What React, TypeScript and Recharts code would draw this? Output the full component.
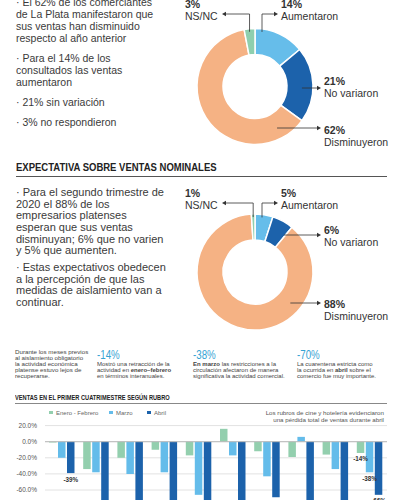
import React from "react";
import { PieChart, Pie, Cell, BarChart, Bar, XAxis, YAxis, CartesianGrid, ReferenceLine, LabelList } from "recharts";

// --- datos ---
const respuestas = ["Aumentaron", "No variaron", "Disminuyeron", "NS/NC"];
const ventasAnterior = [14, 21, 62, 3];
const ventasExpectativa = [5, 6, 88, 1];

const rubros = ["Rubro 1", "Rubro 2", "Rubro 3", "Rubro 4", "Rubro 5", "Rubro 6", "Rubro 7", "Rubro 8", "Rubro 9", "Total"];
const eneroFebrero = [-1, -34, -20, -10, -17, 16, -12, -19, -16, -14];
const marzo = [-20, -38, -40, -38, -66, -17, -43, 6, -34, -38];
const abril = [-39, -85, -82, -90, -100, -100, -69, -100, -78, -66];
const ticksY = [20, 0, -20, -40, -60, -80, -100];

const textoVentas = [
  ["· El 62% de los comerciantes", "de La Plata manifestaron que", "sus ventas han disminuido", "respecto al año anterior"],
  ["· Para el 14% de los", "consultados las ventas", "aumentaron"],
  ["· 21% sin variación"],
  ["· 3% no respondieron"],
];
const textoExpectativa = [
  ["· Para el segundo trimestre de", "2020 el 88% de los", "empresarios platenses", "esperan que sus ventas", "disminuyan; 6% que no varien", "y 5% que aumenten."],
  ["· Estas expectativos obedecen", "a la percepción de que las", "medidas de aislamiento van a", "continuar."],
];

// --- estilos ---
const FONT = '"Liberation Sans", Arial, sans-serif';
const INK = "#333";
const coloresTorta = ["#66bdea", "#1c62ab", "#f5b284", "#8ecfae"];
const colorEF = "#93cfae";
const colorMarzo = "#64bcea";
const colorAbril = "#1c62ab";
const colorCifra = "#35a3d3";
const RAD = Math.PI / 180;

type Etiqueta = { tipo: "izq" | "der" | "lado"; flecha?: number; texto?: number };
type DonaCfg = { arribaDy: number; etiquetas: Etiqueta[] };

const cfgVentas: DonaCfg = {
  arribaDy: -72.5,
  etiquetas: [{ tipo: "der" }, { tipo: "lado", flecha: 1.5, texto: -5.5 }, { tipo: "lado", flecha: 41.5, texto: 43 }, { tipo: "izq" }],
};
const cfgExpectativa: DonaCfg = {
  arribaDy: -69,
  etiquetas: [{ tipo: "der" }, { tipo: "lado", flecha: -37, texto: -42.5 }, { tipo: "lado", flecha: 31, texto: 31.5 }, { tipo: "izq" }],
};

const etiquetaDona = (cfg: DonaCfg) => (p: any) => {
  const { cx, cy, outerRadius, innerRadius, midAngle, index, value } = p;
  const e = cfg.etiquetas[index];
  const nombre = respuestas[index];
  const pct = `${value}%`;
  const tb = { fontFamily: FONT, fontSize: 10.5, fill: INK, dominantBaseline: "central" as const };
  if (e.tipo === "lado") {
    const dy = e.flecha as number;
    const ay = cy + dy;
    const r = (innerRadius + outerRadius) / 2 + 2;
    const x0 = cx + Math.sqrt(Math.max(r * r - dy * dy, 0));
    const x1 = cx + outerRadius + 8;
    const ty = cy + (e.texto as number);
    return (
      <g>
        <line x1={x0} y1={ay} x2={x1 - 3} y2={ay} stroke={INK} strokeWidth={0.8} />
        <path d={`M${x1},${ay} l-4,-2.2 v4.4 z`} fill={INK} />
        <text x={x1 + 3} y={ty} {...tb} fontWeight={700}>{pct}</text>
        <text x={x1 + 3} y={ty + 12} {...tb}>{nombre}</text>
      </g>
    );
  }
  const ay = cy + cfg.arribaDy;
  const dx = e.tipo === "der" ? 7 : outerRadius * Math.cos(-midAngle * RAD);
  const vx = cx + dx;
  const y0 = cy - Math.sqrt(outerRadius * outerRadius - dx * dx) + 3;
  if (e.tipo === "der") {
    const x1 = cx + 23;
    return (
      <g>
        <polyline points={`${vx},${y0} ${vx},${ay} ${x1 - 3},${ay}`} fill="none" stroke={INK} strokeWidth={0.8} />
        <path d={`M${x1},${ay} l-4,-2.2 v4.4 z`} fill={INK} />
        <text x={cx + 26} y={ay - 10.5} {...tb} fontWeight={700}>{pct}</text>
        <text x={cx + 26} y={ay + 2} {...tb}>{nombre}</text>
      </g>
    );
  }
  const x1 = cx - 33;
  return (
    <g>
      <polyline points={`${vx},${y0} ${vx},${ay} ${x1 + 3},${ay}`} fill="none" stroke={INK} strokeWidth={0.8} />
      <path d={`M${x1},${ay} l4,-2.2 v4.4 z`} fill={INK} />
      <text x={cx - 70} y={ay - 10.5} {...tb} fontWeight={700}>{pct}</text>
      <text x={cx - 70} y={ay + 2} {...tb}>{nombre}</text>
    </g>
  );
};

function Dona({ valores, top, cy, cfg }: { valores: number[]; top: number; cy: number; cfg: DonaCfg }) {
  const data = respuestas.map((r, i) => ({ name: r, value: valores[i] }));
  return (
    <div style={{ position: "absolute", left: 180, top, width: 220, height: 160 }}>
      <PieChart width={220} height={160} margin={{ top: 0, right: 0, bottom: 0, left: 0 }}>
        <Pie
          data={data}
          dataKey="value"
          cx={75}
          cy={cy}
          innerRadius={32}
          outerRadius={58}
          startAngle={90}
          endAngle={-270}
          stroke="#fff"
          strokeWidth={1.5}
          label={etiquetaDona(cfg)}
          labelLine={false}
          isAnimationActive={false}
        >
          {data.map((d, i) => (
            <Cell key={d.name} fill={coloresTorta[i]} />
          ))}
        </Pie>
      </PieChart>
    </div>
  );
}

function Parrafos({ paras, top, size, lh, gap }: { paras: string[][]; top: number; size: number; lh: number; gap: number }) {
  return (
    <div style={{ position: "absolute", left: 16, top, fontSize: size, lineHeight: `${lh}px`, whiteSpace: "nowrap" }}>
      {paras.map((p, i) => (
        <div key={i} style={{ marginBottom: gap }}>
          {p.map((l, j) => (
            <div key={j}>{l}</div>
          ))}
        </div>
      ))}
    </div>
  );
}

function Titulo({ text, top, left, size, scale }: { text: string; top: number; left: number; size: number; scale: number }) {
  return (
    <div
      style={{
        position: "absolute", left, top, fontSize: size, lineHeight: `${size}px`, fontWeight: 700, color: "#222",
        whiteSpace: "nowrap", transform: `scaleX(${scale})`, transformOrigin: "left center",
      }}
    >
      {text}
    </div>
  );
}

function Cifra({ left, valor, children }: { left: number; valor: string; children: React.ReactNode }) {
  return (
    <>
      <div style={{ position: "absolute", left, top: 349, fontSize: 12.5, lineHeight: "12.5px", color: colorCifra, transform: "scaleX(0.78)", transformOrigin: "left center" }}>
        {valor}
      </div>
      <div style={{ position: "absolute", left, top: 362, fontSize: 6, lineHeight: "5.8px", color: "#444", whiteSpace: "nowrap" }}>{children}</div>
    </>
  );
}

const barLabel = (visibles: number[]) => (props: any) => {
  const { x, y, width, height, value, index } = props;
  if (!visibles.includes(index)) return null;
  const bottom = Math.max(y, y + height);
  return (
    <text x={x + width / 2} y={bottom + 6} textAnchor="middle" dominantBaseline="central" fontSize={6.3} fontWeight={700} fill={INK} fontFamily={FONT}>
      {`${value}%`}
    </text>
  );
};

export default function App() {
  const barras = rubros.map((r, i) => ({ rubro: r, ef: eneroFebrero[i], m: marzo[i], a: abril[i] }));
  const leyenda = [
    { t: "Enero - Febrero", c: colorEF, x: 49 },
    { t: "Marzo", c: colorMarzo, x: 109 },
    { t: "Abril", c: colorAbril, x: 147 },
  ];
  return (
    <div style={{ position: "absolute", left: 0, top: 0, width: 400, height: 500, overflow: "hidden", background: "#fff", fontFamily: FONT, color: "#3a3a3a" }}>
      <Parrafos paras={textoVentas} top={-4} size={10.5} lh={12} gap={8} />
      <Dona valores={ventasAnterior} top={0} cy={86.5} cfg={cfgVentas} />

      <Titulo text="EXPECTATIVA SOBRE VENTAS NOMINALES" top={161.5} left={16} size={11.5} scale={0.826} />
      <div style={{ position: "absolute", left: 16, top: 175.5, width: 371, height: 1.5, background: "#555" }} />

      <Parrafos paras={textoExpectativa} top={187.2} size={11} lh={11.6} gap={5.5} />
      <Dona valores={ventasExpectativa} top={180} cy={92} cfg={cfgExpectativa} />

      <div style={{ position: "absolute", left: 15, top: 348.7, fontSize: 6.2, lineHeight: "6.1px", color: "#444", whiteSpace: "nowrap" }}>
        <div>Durante los meses previos</div>
        <div>al aislamiento obligatorio</div>
        <div>la actividad económica</div>
        <div>platense estuvo lejos de</div>
        <div>recuperarse.</div>
      </div>
      <Cifra left={97} valor="-14%">
        <div>Mostró una retracción de la</div>
        <div>actividad en <b>enero–febrero</b></div>
        <div>en términos interanuales.</div>
      </Cifra>
      <Cifra left={193} valor="-38%">
        <div><b>En marzo</b> las restricciones a la</div>
        <div>circulación afectaron de manera</div>
        <div>significativa la actividad comercial.</div>
      </Cifra>
      <Cifra left={297} valor="-70%">
        <div>La cuarentena estricta como</div>
        <div>la ocurrida en <b>abril</b> sobre el</div>
        <div>comercio fue muy importante.</div>
      </Cifra>

      <Titulo text="VENTAS EN EL PRIMER CUATRIMESTRE SEGÚN RUBRO" top={393.5} left={15} size={7} scale={0.81} />
      <div style={{ position: "absolute", left: 15, top: 403, width: 372, height: 1.2, background: "#888" }} />

      {leyenda.map((l) => (
        <div key={l.t} style={{ position: "absolute", left: l.x, top: 409.5, height: 6, display: "flex", alignItems: "center", fontSize: 6, color: "#666", whiteSpace: "nowrap" }}>
          <span style={{ display: "inline-block", width: 3.5, height: 3.5, background: l.c, marginRight: 3.5 }} />
          {l.t}
        </div>
      ))}
      <div style={{ position: "absolute", right: 16, top: 409, fontSize: 6.2, lineHeight: "7px", color: "#555", textAlign: "right", whiteSpace: "nowrap" }}>
        <div>Los rubros de cine y hotelería evidenciaron</div>
        <div>una pérdida total de ventas durante abril</div>
      </div>

      <div style={{ position: "absolute", left: 0, top: 420 }}>
        <BarChart width={400} height={120} data={barras} margin={{ top: 5.6, right: 13, bottom: 17.8, left: 0 }} barSize={7.5} barGap={1.5}>
          <CartesianGrid vertical={false} stroke="#e2e2e2" />
          <XAxis dataKey="rubro" hide />
          <YAxis
            width={45}
            domain={[-100, 20]}
            ticks={ticksY}
            interval={0}
            axisLine={false}
            tickLine={false}
            tick={{ fontSize: 6.5, fill: "#555", fontFamily: FONT }}
            tickFormatter={(v: number) => `${v.toFixed(1)}%`}
          />
          <ReferenceLine y={0} stroke="#bbb" />
          <Bar dataKey="ef" fill={colorEF} isAnimationActive={false}>
            <LabelList dataKey="ef" content={barLabel([9])} />
          </Bar>
          <Bar dataKey="m" fill={colorMarzo} isAnimationActive={false}>
            <LabelList dataKey="m" content={barLabel([9])} />
          </Bar>
          <Bar dataKey="a" fill={colorAbril} isAnimationActive={false}>
            <LabelList dataKey="a" content={barLabel([0, 9])} />
          </Bar>
        </BarChart>
      </div>
    </div>
  );
}
